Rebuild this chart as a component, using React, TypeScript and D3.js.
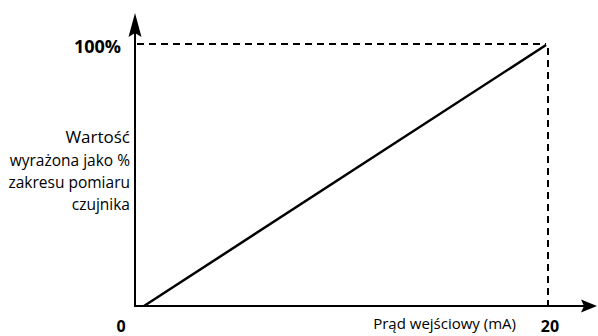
import React from "react";
import * as d3 from "d3";

const inputCurrent = [0, 20];
const percentValue = [0, 100];
const xTickLabels = ["0", "20"];
const yTickLabel = "100%";
const yTitleLines = ["wyrażona jako %", "zakresu pomiaru", "czujnika"];
const yTitleMain = "Wartość";
const xTitle = "Prąd wejściowy (mA)";

const W = 598;
const H = 336;
const FONT = "'Open Sans', 'Noto Sans', sans-serif";

export default function App() {
  const x = d3.scaleLinear().domain([0, 20]).range([144, 546]);
  const y = d3.scaleLinear().domain([0, 100]).range([306, 45]);
  const axisX = 135;
  const axisY = 306;
  const pts: [number, number][] = inputCurrent.map((v, i) => [v, percentValue[i]]);
  const line = d3
    .line<[number, number]>()
    .x((d) => x(d[0]))
    .y((d) => y(d[1]));

  return (
    <svg
      width={W}
      height={H}
      style={{ position: "absolute", left: 0, top: 0, background: "#fff" }}
      fontFamily={FONT}
    >
      {/* dashed guides */}
      <line x1={axisX + 2} x2={x(20)} y1={y(100) - 1} y2={y(100) - 1} stroke="#000" strokeWidth={2} strokeDasharray="7,5" />
      <line x1={x(20) + 2} x2={x(20) + 2} y1={y(100) + 3} y2={axisY} stroke="#000" strokeWidth={2} strokeDasharray="7,5" />
      {/* axes */}
      <line x1={axisX} x2={axisX} y1={axisY + 1} y2={30} stroke="#000" strokeWidth={2} />
      <line x1={axisX - 1} x2={585} y1={axisY} y2={axisY} stroke="#000" strokeWidth={2} />
      <path d={`M${axisX},13 L${axisX + 6.5},37 L${axisX},33 L${axisX - 6.5},37 Z`} fill="#000" />
      <path d={`M597,${axisY} L581,${axisY - 6.5} L584,${axisY} L581,${axisY + 6.5} Z`} fill="#000" />
      {/* data line */}
      <path d={line(pts) || ""} fill="none" stroke="#000" strokeWidth={2.5} />
      {/* tick labels */}
      <text x={121} y={53} textAnchor="end" fontWeight="bold" fontSize={18}>{yTickLabel}</text>
      <text x={121} y={332} textAnchor="middle" fontWeight="bold" fontSize={16}>{xTickLabels[0]}</text>
      <text x={550} y={332} textAnchor="middle" fontWeight="bold" fontSize={16}>{xTickLabels[1]}</text>
      {/* titles */}
      <text x={130} y={143} textAnchor="end" fontSize={17}>{yTitleMain}</text>
      {yTitleLines.map((t, i) => (
        <text key={t} x={130} y={166 + i * 22} textAnchor="end" fontSize={15.5}>{t}</text>
      ))}
      <text x={516} y={329} textAnchor="end" fontSize={15}>{xTitle}</text>
    </svg>
  );
}
